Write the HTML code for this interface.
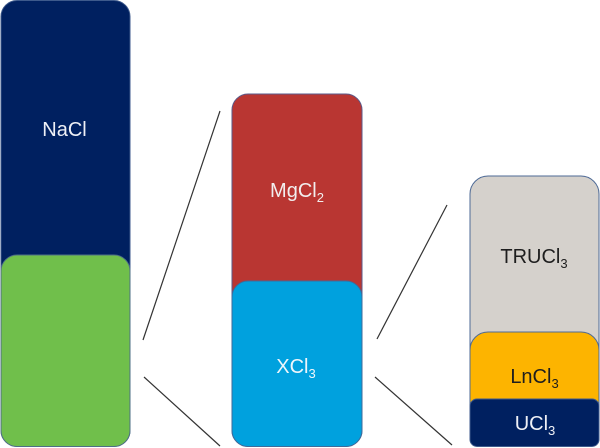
<!DOCTYPE html>
<html>
<head>
<meta charset="utf-8">
<style>
  html, body { margin: 0; padding: 0; background: #ffffff; }
  svg { display: block; }
  text { font-family: "Liberation Sans", Arial, sans-serif; font-size: 20px; }
</style>
</head>
<body>
<svg width="600" height="448" viewBox="0 0 600 448" xmlns="http://www.w3.org/2000/svg">
  <!-- Left column -->
  <rect x="1" y="0.5" width="129" height="446" rx="16" ry="16" fill="#002060" stroke="#3e5a8c" stroke-width="1"/>
  <rect x="1" y="255" width="129" height="191.5" rx="16" ry="16" fill="#70bf4b" stroke="#4e6f86" stroke-width="1"/>
  <text x="64.5" y="136" text-anchor="middle" fill="#eef0f6">NaCl</text>

  <!-- Connectors left -> middle -->
  <line x1="143" y1="340" x2="220" y2="111" stroke="#333" stroke-width="1.2"/>
  <line x1="144" y1="377" x2="220" y2="446" stroke="#333" stroke-width="1.2"/>

  <!-- Middle column -->
  <rect x="232" y="94" width="130" height="352.5" rx="16" ry="16" fill="#b93632" stroke="#5a5a8a" stroke-width="1"/>
  <rect x="232" y="281" width="130" height="165.5" rx="16" ry="16" fill="#00a1de" stroke="#3f6a9a" stroke-width="1"/>
  <text x="297" y="197" text-anchor="middle" fill="#f2eeee">MgCl<tspan font-size="13" dy="5">2</tspan></text>
  <text x="296" y="373" text-anchor="middle" fill="#eef6fb">XCl<tspan font-size="13" dy="5">3</tspan></text>

  <!-- Connectors middle -> right -->
  <line x1="377" y1="339" x2="447" y2="205" stroke="#333" stroke-width="1.2"/>
  <line x1="375" y1="377" x2="452" y2="445" stroke="#333" stroke-width="1.2"/>

  <!-- Right column -->
  <rect x="470" y="176" width="129" height="270.5" rx="18" ry="18" fill="#d5d1cc" stroke="#4e6a96" stroke-width="1"/>
  <rect x="470" y="332" width="129" height="114.5" rx="18" ry="18" fill="#fdb400" stroke="#4e6a96" stroke-width="1"/>
  <rect x="470" y="399" width="129" height="47.5" rx="7" ry="7" fill="#002060" stroke="#3e5a8c" stroke-width="1"/>
  <text x="534" y="263" text-anchor="middle" fill="#1e1e1e">TRUCl<tspan font-size="13" dy="5">3</tspan></text>
  <text x="534.5" y="383" text-anchor="middle" fill="#1e1e1e">LnCl<tspan font-size="13" dy="5">3</tspan></text>
  <text x="535" y="430" text-anchor="middle" fill="#eef0f6">UCl<tspan font-size="13" dy="5">3</tspan></text>
</svg>
</body>
</html>
